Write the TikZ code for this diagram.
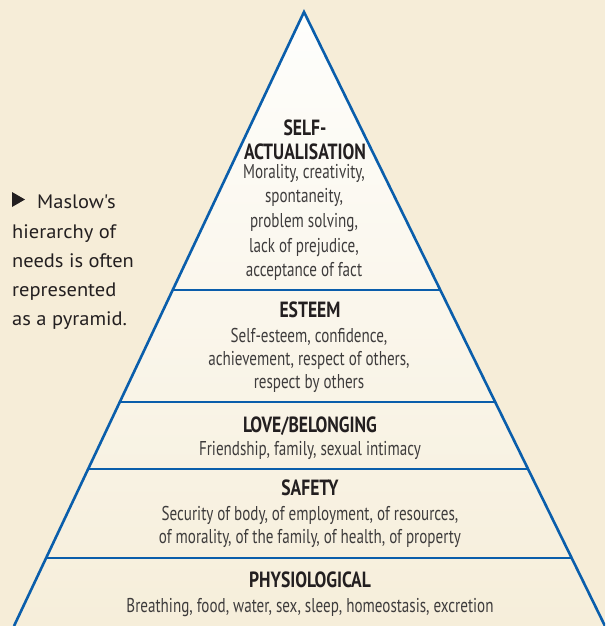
\documentclass[tikz,border=0pt]{standalone}
\usepackage{fontspec}
\newfontfamily\condf[FakeStretch=0.755]{PT Sans}
\newfontfamily\condbf[FakeStretch=0.80]{PT Sans Bold}
\newfontfamily\capf[FakeStretch=1.05]{PT Sans}
\definecolor{bg}{RGB}{246,237,216}
\definecolor{pyrtop}{RGB}{254,254,252}
\definecolor{pyrbot}{RGB}{246,238,218}
\definecolor{lineblue}{RGB}{10,94,171}
\definecolor{headc}{RGB}{35,31,32}
\definecolor{bodyc}{RGB}{62,60,60}
\tikzset{
  head/.style={font=\condbf\fontsize{22}{26}\selectfont, text=headc, anchor=base, inner sep=0pt},
  body/.style={font=\condf\fontsize{20}{24}\selectfont, text=bodyc, anchor=base, inner sep=0pt},
  capt/.style={font=\capf\fontsize{19.5}{23}\selectfont, text=headc, anchor=base west, inner sep=0pt},
  edge/.style={draw=lineblue, line width=2.6pt, line join=miter},
  divider/.style={draw=lineblue, line width=2.6pt}
}
\begin{document}
\begin{tikzpicture}[x=1pt,y=-1pt]
\fill[bg] (0,0) rectangle (605,626);
\useasboundingbox (0,0) rectangle (605,626);
\begin{scope}
\clip (0,0) rectangle (605,626);
\coordinate (apex) at (304,12);
\coordinate (bl) at (14,626);
\coordinate (br) at (605,626);
\shade[top color=pyrtop, bottom color=pyrbot] (apex) -- (bl) -- (br) -- cycle;
% dividers
\coordinate (d1l) at (172.8,290); \coordinate (d1r) at (440.2,290);
\coordinate (d2l) at (119.9,402); \coordinate (d2r) at (495.1,402);
\coordinate (d3l) at (88.3,469);  \coordinate (d3r) at (527.9,469);
\coordinate (d4l) at (46.3,558);  \coordinate (d4r) at (571.5,558);
\draw[divider] (d1l) -- (d1r);
\draw[divider] (d2l) -- (d2r);
\draw[divider] (d3l) -- (d3r);
\draw[divider] (d4l) -- (d4r);
\draw[edge] (bl) -- (apex) -- (br);
\end{scope}

% Self-actualisation
\node[head] (sah1) at (305,135) {SELF-};
\node[head] (sah2) at (305,159) {ACTUALISATION};
\node[body] (sa1) at (304,178) {Morality, creativity,};
\node[body] (sa2) at (304,202.7) {spontaneity,};
\node[body] (sa3) at (304,227.4) {problem solving,};
\node[body] (sa4) at (304,252) {lack of prejudice,};
\node[body] (sa5) at (304,276.7) {acceptance of fact};

% Esteem
\node[head] (esh) at (310,317) {ESTEEM};
\node[body] (es1) at (309,342) {Self-esteem, confidence,};
\node[body] (es2) at (309,365) {achievement, respect of others,};
\node[body] (es3) at (309,388) {respect by others};

% Love
\node[head] (loh) at (310,432) {LOVE/BELONGING};
\node[body] (lo1) at (310,455) {Friendship, family, sexual intimacy};

% Safety
\node[head] (sfh) at (310,495) {SAFETY};
\node[body] (sf1) at (310,520) {Security of body, of employment, of resources,};
\node[body] (sf2) at (310,543) {of morality, of the family, of health, of property};

% Physiological
\node[head] (phh) at (310,587) {PHYSIOLOGICAL};
\node[body] (ph1) at (310,612) {Breathing, food, water, sex, sleep, homeostasis, excretion};

% caption
\fill[headc] (12,192) -- (25,199.5) -- (12,207) -- cycle;
\node[capt] (c1) at (37,208) {Maslow{\char"0027}s};
\node[capt] (c2) at (12,238) {hierarchy of};
\node[capt] (c3) at (12,267) {needs is often};
\node[capt] (c4) at (12,296) {represented};
\node[capt] (c5) at (12,325) {as a pyramid.};
\end{tikzpicture}
\end{document}
